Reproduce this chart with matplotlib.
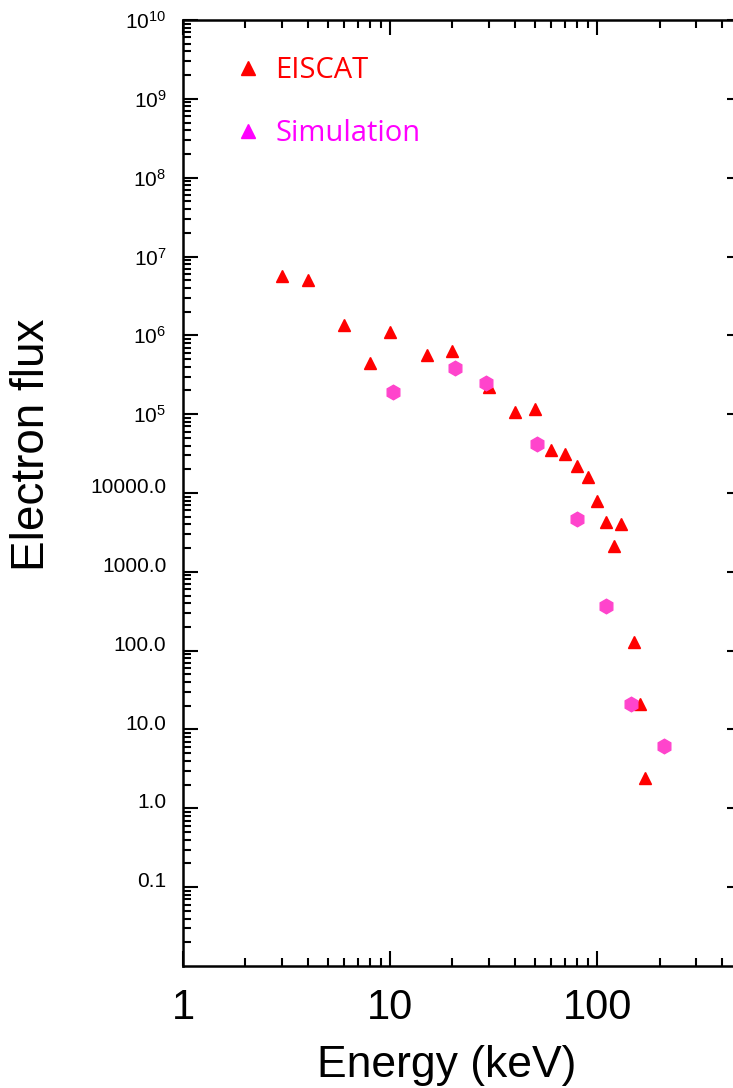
import matplotlib
matplotlib.use('Agg')
import matplotlib.pyplot as plt
from matplotlib.lines import Line2D
from matplotlib.ticker import LogLocator, NullFormatter

# EISCAT measurements (keV, flux)
eiscat_energy = [3, 4, 6, 8, 10, 15, 20, 30, 40, 50, 60, 70, 80, 90,
                 100, 110, 120, 130, 150, 160, 170]
eiscat_flux = [5.6e6, 5.0e6, 1.34e6, 4.5e5, 1.09e6, 5.6e5, 6.3e5, 2.2e5,
               1.06e5, 1.16e5, 3.5e4, 3.1e4, 2.2e4, 1.6e4, 7.9e3, 4.3e3,
               2.1e3, 4.1e3, 127, 21, 2.4]

# simulation
sim_energy = [10.3, 20.6, 29.1, 51.3, 80, 110, 146, 211]
sim_flux = [1.9e5, 3.8e5, 2.5e5, 4.2e4, 4.7e3, 372, 21, 6.1]

ytick_values = [1e-1, 1e0, 1e1, 1e2, 1e3, 1e4, 1e5, 1e6, 1e7, 1e8, 1e9, 1e10]
ytick_labels = ['0.1', '1.0', '10.0', '100.0', '1000.0', '10000.0',
                r'$\mathregular{10^{5}}$', r'$\mathregular{10^{6}}$',
                r'$\mathregular{10^{7}}$', r'$\mathregular{10^{8}}$',
                r'$\mathregular{10^{9}}$', r'$\mathregular{10^{10}}$']
xtick_values = [1, 10, 100]
xtick_labels = ['1', '10', '100']

plt.rcParams['font.family'] = ['Liberation Sans', 'DejaVu Sans']

fig = plt.figure(figsize=(7.33, 10.88), dpi=100)
ax = fig.add_axes([183 / 733, 1 - 966 / 1088, (742 - 183) / 733, (966 - 20) / 1088])

ax.plot(eiscat_energy, eiscat_flux, ls='none', marker='^', ms=9,
        color='#ff0000', mec='#ff0000')
ax.plot(sim_energy, sim_flux, ls='none', marker='h', ms=10.5,
        color='#ff44cc', mec='#ff44cc')

ax.set_xscale('log')
ax.set_yscale('log')
ax.set_xlim(1, 500)
ax.set_ylim(1e-2, 1e10)

ax.set_xticks(xtick_values)
ax.set_xticklabels(xtick_labels, fontsize=30)
ax.set_yticks(ytick_values)
ax.set_yticklabels(ytick_labels, fontsize=15)
ax.xaxis.set_minor_locator(LogLocator(base=10, subs=range(2, 10), numticks=100))
ax.yaxis.set_minor_locator(LogLocator(base=10, subs=range(2, 10), numticks=100))
ax.xaxis.set_minor_formatter(NullFormatter())
ax.yaxis.set_minor_formatter(NullFormatter())

ax.tick_params(which='both', direction='in', top=True, right=True, width=1.5, color='black')
ax.tick_params(which='major', length=11)
ax.tick_params(which='minor', length=6, right=False)
ax.tick_params(axis='y', which='major', pad=12)
ax.tick_params(axis='x', which='major', pad=16)
for lbl in ax.get_yticklabels():
    if not lbl.get_text().startswith('$'):
        lbl.set_verticalalignment('baseline')

for sp in ax.spines.values():
    sp.set_linewidth(1.8)

fig.text(447 / 733, 1 - 1077 / 1088, 'Energy (keV)', fontsize=32,
         ha='center', va='baseline')
fig.text(32 / 733, 1 - 445 / 1088, 'Electron flux', fontsize=33,
         ha='center', va='center', rotation=90)

handles = [Line2D([], [], ls='none', marker='^', ms=9.5, color='#ff0000'),
           Line2D([], [], ls='none', marker='^', ms=9.5, color='#ff00ff')]
ax.legend(handles, ['EISCAT', 'Simulation'], loc='upper left',
          bbox_to_anchor=(0.0894, 0.9617), frameon=False, borderpad=0,
          borderaxespad=0, handlelength=1.0, handletextpad=0.45,
          labelspacing=1.15, labelcolor='linecolor',
          prop={'family': 'Open Sans', 'size': 21})

fig.savefig('out.png', dpi=100)
